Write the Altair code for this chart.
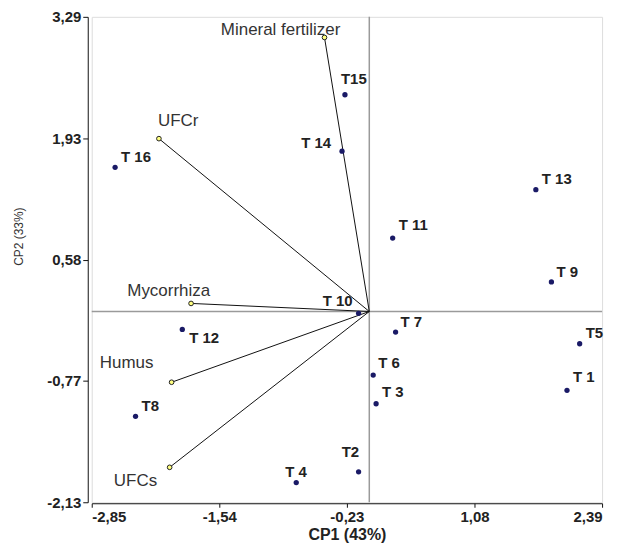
import altair as alt
import pandas as pd

# ---- data ----
treatments = ["T 1", "T2", "T 3", "T 4", "T5", "T 6", "T 7", "T8",
              "T 9", "T 10", "T 11", "T 12", "T 13", "T 14", "T15", "T 16"]
cp1 = [2.03, -0.11, 0.07, -0.75, 2.16, 0.04, 0.27, -2.40,
       1.87, -0.11, 0.24, -1.92, 1.71, -0.28, -0.25, -2.61]
cp2 = [-0.88, -1.79, -1.03, -1.91, -0.36, -0.71, -0.23, -1.17,
       0.33, -0.02, 0.82, -0.20, 1.36, 1.79, 2.42, 1.61]

variables = ["Mineral fertilizer", "UFCr", "Mycorrhiza", "Humus", "UFCs"]
var_x = [-0.46, -2.16, -1.83, -2.03, -2.05]
var_y = [3.06, 1.93, 0.09, -0.79, -1.74]

x_ticks = [-2.85, -1.54, -0.23, 1.08, 2.39]
y_ticks = [-2.13, -0.77, 0.58, 1.93, 3.29]

# ---- label placement (style, not data) ----
point_label_style = {
    "T 16": ("left", 6, -5), "T15": ("left", -4, -11), "T 14": ("right", -11, -3),
    "T 13": ("left", 6, -6), "T 11": ("left", 6, -8), "T 9": ("left", 5, -5),
    "T 10": ("right", -6, -7), "T 7": ("left", 5, -5), "T5": ("left", 6, -6),
    "T 6": ("left", 5, -7), "T 1": ("left", 6, -8), "T 3": ("left", 6, -7),
    "T2": ("left", -17, -15), "T 4": ("left", -11, -6), "T8": ("left", 6, -5),
    "T 12": ("left", 7, 14),
}
var_label_style = {
    "Mineral fertilizer": ("left", -104, -2), "UFCr": ("left", -1, -13),
    "Mycorrhiza": ("left", -64, -7), "Humus": ("left", -72, -14),
    "UFCs": ("left", -56, 19),
}

pts = pd.DataFrame({"name": treatments, "cp1": cp1, "cp2": cp2})
vecs = pd.DataFrame({"name": variables, "vx": var_x, "vy": var_y,
                     "ox": [0.0] * len(variables), "oy": [0.0] * len(variables)})

label_expr = "replace(replace(format(datum.value, '.2f'), '.', ','), '\u2212', '-')"
TICK_FONT = "Liberation Sans"

xscale = alt.Scale(domain=[x_ticks[0], x_ticks[-1]], nice=False, zero=False)
yscale = alt.Scale(domain=[y_ticks[0], y_ticks[-1]], nice=False, zero=False)

X = alt.X("cp1:Q", scale=xscale, title="CP1 (43%)",
          axis=alt.Axis(values=x_ticks, labelExpr=label_expr, grid=False,
                        offset=1, tickSize=4, domainColor="#111", tickColor="#111",
                        labelFont=TICK_FONT, labelFontWeight="bold", labelFontSize=15,
                        labelColor="#222", labelPadding=2,
                        titleFont=TICK_FONT, titleFontWeight="bold", titleFontSize=16,
                        titleColor="#222", titlePadding=2))
Y = alt.Y("cp2:Q", scale=yscale, title="CP2 (33%)",
          axis=alt.Axis(values=y_ticks, labelExpr=label_expr, grid=False,
                        offset=4, tickSize=5, domainColor="#111", tickColor="#111",
                        labelFont=TICK_FONT, labelFontWeight="bold", labelFontSize=15,
                        labelColor="#222", labelPadding=2,
                        titleFont="Liberation Sans", titleFontWeight="normal",
                        titleFontSize=12, titleColor="#333", titleAngle=-90,
                        titleX=-62, titleY=220, titleAlign="center"))

base_pts = alt.Chart(pts)
base_vec = alt.Chart(vecs)

vline = alt.Chart(pd.DataFrame({"v": [0.0]})).mark_rule(color="#9a9a9a", strokeWidth=1.5).encode(
    x=alt.X("v:Q", scale=xscale))
hline = alt.Chart(pd.DataFrame({"v": [0.0]})).mark_rule(color="#9a9a9a", strokeWidth=1.5).encode(
    y=alt.Y("v:Q", scale=yscale))

axes_layer = base_pts.mark_point(opacity=0).encode(x=X, y=Y)

arrows = base_vec.mark_rule(color="#111", strokeWidth=1).encode(
    x=alt.X("ox:Q", scale=xscale), y=alt.Y("oy:Q", scale=yscale),
    x2="vx:Q", y2="vy:Q")
ends = base_vec.mark_point(shape="circle", size=22, filled=True, fill="#ffff80",
                           stroke="#222", strokeWidth=1, opacity=1).encode(
    x=alt.X("vx:Q", scale=xscale), y=alt.Y("vy:Q", scale=yscale))

dots = base_pts.mark_circle(size=28, color="#1a1a66", opacity=1).encode(
    x=alt.X("cp1:Q", scale=xscale), y=alt.Y("cp2:Q", scale=yscale))

layers = [vline, hline, axes_layer, arrows, ends, dots]

for name, (align, dx, dy) in point_label_style.items():
    layers.append(base_pts.transform_filter(alt.datum.name == name).mark_text(
        align=align, baseline="alphabetic", dx=dx, dy=dy, font=TICK_FONT,
        fontWeight="bold", fontSize=15, color="#222").encode(
        x=alt.X("cp1:Q", scale=xscale), y=alt.Y("cp2:Q", scale=yscale), text="name:N"))

for name, (align, dx, dy) in var_label_style.items():
    layers.append(base_vec.transform_filter(alt.datum.name == name).mark_text(
        align=align, baseline="alphabetic", dx=dx, dy=dy, font="Liberation Sans",
        fontWeight="normal", fontSize=17, color="#333").encode(
        x=alt.X("vx:Q", scale=xscale), y=alt.Y("vy:Q", scale=yscale), text="name:N"))

chart = alt.layer(*layers).properties(
    width=512, height=487,
    autosize=alt.AutoSizeParams(type="none"),
    padding={"left": 84, "top": 8, "right": 20, "bottom": 40},
).configure_view(stroke=None).configure(background="white")

chart.save("out.html", embed_options={"renderer": "svg", "actions": False})
